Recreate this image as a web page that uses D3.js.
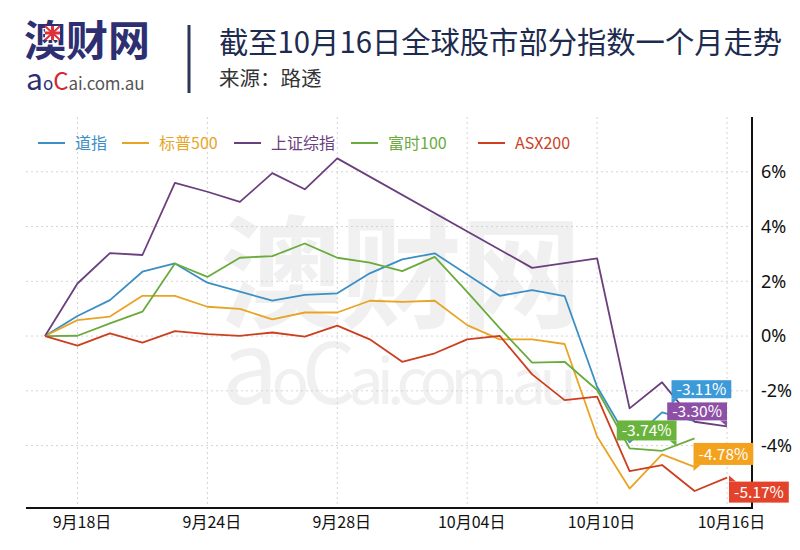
<!DOCTYPE html>
<html>
<head>
<meta charset="utf-8">
<script src="https://cdn.jsdelivr.net/npm/d3@7/dist/d3.min.js"></script>
<style>
  body { margin: 0; background: #fff; }
  text { font-family: "Noto Sans CJK SC", "Noto Sans", sans-serif; }
</style>
</head>
<body>
<svg id="chart" width="800" height="550"></svg>
<script>
// trading days (merged across markets)
var dates = ["9月17日","9月18日","9月19日","9月20日","9月21日","9月24日","9月25日","9月26日","9月27日","9月28日",
             "10月01日","10月02日","10月03日","10月04日","10月05日","10月08日","10月09日","10月10日","10月11日","10月12日",
             "10月15日","10月16日"];
var tickDates = ["9月18日","9月24日","9月28日","10月04日","10月10日","10月16日"];
var names = ["道指","标普500","上证综指","富时100","ASX200"];

// % change since 9/17, null = no trading
var dow      = [0, 0.73, 1.31, 2.35, 2.65, 1.95, 1.62, 1.29, 1.50, 1.56, 2.29, 2.80, 3.02, 2.25, 1.47, 1.68, 1.46, -1.85, -3.88, -2.79, -3.11, null];
var sp500    = [0, 0.58, 0.71, 1.47, 1.47, 1.07, 0.99, 0.61, 0.86, 0.86, 1.29, 1.25, 1.29, 0.40, -0.12, -0.12, -0.29, -3.67, -5.57, -4.32, -4.78, null];
var shanghai = [0, 1.92, 3.03, 2.96, 5.59, 5.27, 4.90, 5.95, 5.36, 6.49, null, null, null, null, null, 2.49, 2.66, 2.84, -2.64, -1.69, -3.13, -3.30];
var ftse     = [0, 0.01, 0.46, 0.89, 2.65, 2.16, 2.86, 2.92, 3.38, 2.86, 2.68, 2.37, 2.89, 1.61, 0.29, -0.97, -0.94, -1.97, -4.10, -4.19, -3.74, null];
var asx      = [0, -0.35, 0.10, -0.24, 0.18, 0.07, 0.01, 0.13, -0.02, 0.38, -0.12, -0.94, -0.63, -0.12, 0.01, -1.40, -2.34, -2.21, -4.93, -4.71, -5.66, -5.17];
var yTicks = [-4, -2, 0, 2, 4, 6];

var lineColors  = ["#3b8fc4", "#e9a425", "#6b3f7d", "#6aab3e", "#cc3f1f"];
var labelColors = ["#3d9ad9", "#f3a21e", "#8e4fa6", "#6ab43e", "#e2432a"];
// end label placement relative to last point
var labelPos = [
  {dx: -23, dy: -41, h: 18, tail: "bl"},
  {dx: -1,  dy: -24, h: 22, tail: "bl"},
  {dx: -57, dy: -24, h: 18, tail: "br"},
  {dx: -75, dy: -18, h: 20, tail: "br"},
  {dx: 2,   dy: 4,   h: 21, tail: "tl"}
];

var svg = d3.select("#chart");
var plotL = 26, plotR = 752, plotT = 117, plotB = 508;

var x = d3.scalePoint().domain(dates).range([45, 727]);
var y = d3.scaleLinear().domain([-6.28, 8]).range([plotB, plotT]);

// header
var head = svg.append("g");
head.append("text").attr("x", 24).attr("y", 56)
  .attr("font-size", 42).attr("font-weight", "bold").attr("fill", "#2e2f72")
  .text("澳财网");
var uj = head.append("g").attr("transform", "translate(45,26)");
uj.append("rect").attr("width", 15).attr("height", 14).attr("fill", "#fff");
uj.append("path").attr("d", "M0,0L15,14M15,0L0,14").attr("stroke", "#e0303a").attr("stroke-width", 2);
uj.append("path").attr("d", "M7.5,0V14M0,7H15").attr("stroke", "#e0303a").attr("stroke-width", 3);
var sub = head.append("text").attr("x", 26).attr("y", 90).attr("fill", "#2e2f72");
sub.append("tspan").attr("font-size", 30).text("a");
sub.append("tspan").attr("font-size", 17).text("o");
sub.append("tspan").attr("font-size", 24).attr("fill", "#d8262f").text("C");
sub.append("tspan").attr("font-size", 17).attr("fill", "#555").attr("textLength", 76).text("ai.com.au");

head.append("line").attr("x1", 189).attr("x2", 189).attr("y1", 25).attr("y2", 93)
  .attr("stroke", "#2b3658").attr("stroke-width", 3);
head.append("text").attr("x", 219).attr("y", 53)
  .attr("font-size", 29.3).attr("fill", "#1d2b4f")
  .text("截至10月16日全球股市部分指数一个月走势");
head.append("text").attr("x", 219).attr("y", 86)
  .attr("font-size", 20.5).attr("fill", "#333")
  .text("来源：路透");

// watermark
var wm = svg.append("g").attr("fill", "#f0f0f0");
wm.append("text").attr("x", 220).attr("y", 318).attr("font-size", 122).attr("font-weight", "bold")
  .attr("textLength", 362).text("澳财网");
var wm2 = wm.append("text").attr("x", 222).attr("y", 404).attr("textLength", 355);
wm2.append("tspan").attr("font-size", 100).text("a");
wm2.append("tspan").attr("font-size", 62).text("o");
wm2.append("tspan").attr("font-size", 84).text("C");
wm2.append("tspan").attr("font-size", 62).text("ai.com.au");

// grid
var grid = svg.append("g").attr("stroke", "#d4d4d4").attr("stroke-dasharray", "2,3").attr("stroke-width", 1);
grid.selectAll("line.h").data(yTicks).enter().append("line")
  .attr("x1", plotL).attr("x2", plotR)
  .attr("y1", function (d) { return y(d); }).attr("y2", function (d) { return y(d); });
grid.selectAll("line.v").data(tickDates).enter().append("line")
  .attr("y1", plotT).attr("y2", plotB)
  .attr("x1", function (d) { return x(d); }).attr("x2", function (d) { return x(d); });

// axes
var yAxis = d3.axisRight(y).tickValues(yTicks).tickSize(0).tickPadding(9)
  .tickFormat(function (d) { return d + "%"; });
var gy = svg.append("g").attr("transform", "translate(" + plotR + ",0)").call(yAxis);
gy.select(".domain").remove();
gy.selectAll("text").attr("font-size", 18).attr("fill", "#111")
  .style("font-family", "'Noto Sans', 'Noto Sans CJK SC', sans-serif");

var xAxis = d3.axisBottom(x).tickValues(tickDates).tickSize(0).tickPadding(9);
var gx = svg.append("g").attr("transform", "translate(4," + plotB + ")").call(xAxis);
gx.select(".domain").remove();
gx.selectAll("text").attr("font-size", 16).attr("fill", "#111");

svg.append("path").attr("d", "M" + plotL + "," + plotB + "H" + plotR + "V" + plotT)
  .attr("fill", "none").attr("stroke", "#111").attr("stroke-width", 2);

// lines
var allSeries = [dow, sp500, shanghai, ftse, asx];
var series = names.map(function (n, i) {
  var pts = [];
  allSeries[i].forEach(function (v, j) { if (v !== null) pts.push({date: dates[j], v: v}); });
  return {name: n, pts: pts, color: lineColors[i], label: labelColors[i], pos: labelPos[i]};
});

var line = d3.line().x(function (d) { return x(d.date); }).y(function (d) { return y(d.v); });

svg.append("g").selectAll("path").data(series).enter().append("path")
  .attr("d", function (d) { return line(d.pts); })
  .attr("fill", "none")
  .attr("stroke", function (d) { return d.color; })
  .attr("stroke-width", 1.8)
  .attr("stroke-linejoin", "round");

// legend
var legendX = [38, 122, 234, 351, 478];
var lg = svg.append("g").selectAll("g").data(series).enter().append("g")
  .attr("transform", function (d, i) { return "translate(" + legendX[i] + ",143)"; });
lg.append("line").attr("x1", 0).attr("x2", 27)
  .attr("stroke", function (d) { return d.color; }).attr("stroke-width", 2);
lg.append("text").attr("x", 37).attr("y", 0).attr("dy", "0.35em")
  .attr("font-size", 16)
  .attr("fill", function (d) { return d.color; })
  .text(function (d) { return d.name; });

// end labels
var fmt = d3.format(".2f");
series.forEach(function (s) {
  var last = s.pts[s.pts.length - 1];
  var ax = x(last.date), ay = y(last.v);
  var p = s.pos;
  var g = svg.append("g");
  var t = g.append("text").attr("font-size", 15.5).attr("fill", "#fff")
    .text(fmt(last.v).replace("\u2212", "-") + "%");
  var w = t.node().getComputedTextLength() + 10;
  var bx = ax + p.dx, by = ay + p.dy;
  if (p.tail === "br") bx = ax + p.dx + 57 - w;
  g.insert("rect", "text").attr("x", bx).attr("y", by).attr("width", w).attr("height", p.h)
    .attr("fill", s.label);
  var tri;
  if (p.tail === "bl") tri = [[bx, by + p.h], [bx + 7, by + p.h], [bx, by + p.h + 6]];
  else if (p.tail === "br") tri = [[bx + w - 7, by + p.h], [bx + w, by + p.h], [bx + w, by + p.h + 6]];
  else tri = [[bx, by], [bx + 7, by], [bx, by - 6]];
  g.insert("path", "text").attr("d", "M" + tri.join("L") + "Z").attr("fill", s.label);
  t.attr("x", bx + 5).attr("y", by + p.h / 2).attr("dy", "0.36em");
});
</script>
</body>
</html>
